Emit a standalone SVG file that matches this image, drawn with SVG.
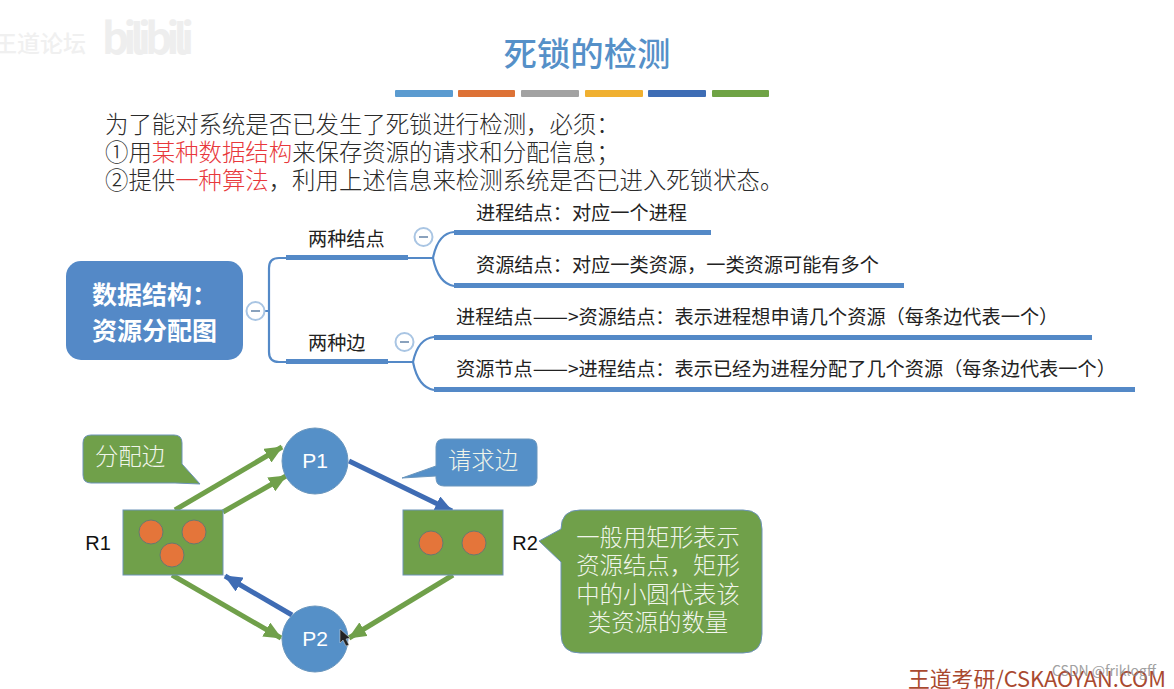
<svg xmlns="http://www.w3.org/2000/svg" width="1174" height="689" viewBox="0 0 1174 689">
<defs>
<marker id="ag" markerUnits="userSpaceOnUse" markerWidth="18" markerHeight="16" refX="17" refY="8" orient="auto"><path d="M0 0L18 8L0 16Z" fill="#70a04a"/></marker>
<marker id="ab" markerUnits="userSpaceOnUse" markerWidth="18" markerHeight="16" refX="17" refY="8" orient="auto"><path d="M0 0L18 8L0 16Z" fill="#3f6cb4"/></marker>
</defs>
<style>
text{font-family:"Noto Sans CJK SC","Liberation Sans",sans-serif}
.b{font-size:23.400px;fill:#2b2b2b;font-weight:300}
.r{fill:#e8383c}
.m{font-size:19.200px;fill:#222;font-weight:400}
.d{font-size:21px}
.th{fill:#5489c7}
.st{stroke:#5489c7;fill:none;stroke-width:2.2}
.col{fill:#fff;stroke:#a9c5e3;stroke-width:2}
.dash{stroke:#8aa2bd;stroke-width:2}
.ge{stroke:#70a04a;stroke-width:5;fill:none;marker-end:url(#ag)}
.be{stroke:#3f6cb4;stroke-width:5;fill:none;marker-end:url(#ab)}
.res{fill:#70a04a;stroke:#6d93b8;stroke-width:1}
.tok{fill:#e4753a;stroke:#667a70;stroke-width:1}
.proc{fill:#5590c8;stroke:#6a96bd;stroke-width:1}
.lt{fill:#f0f5ea;font-size:23.400px;font-weight:300;text-anchor:middle}
.pl{fill:#fff;font-family:"Liberation Sans",sans-serif;font-size:21px;text-anchor:middle}
.rl{fill:#111;font-family:"Liberation Sans",sans-serif;font-size:20px;text-anchor:middle}
</style>
<g id="watermark">
<text x="-6" y="52" font-size="23" fill="#f0f0f0" font-weight="500">王道论坛</text>
<text x="102" y="54" font-size="42" fill="#eeeeee" font-weight="700" font-family="Liberation Sans,sans-serif" textLength="92">bilibili</text>
</g>
<g id="title">
<text x="587" y="66" font-size="33.400" fill="#5590c8" text-anchor="middle" font-weight="500">死锁的检测</text>
<rect x="395" y="90" width="58" height="7" rx="1" fill="#5b9bd0"/>
<rect x="458" y="90" width="57" height="7" rx="1" fill="#dd7236"/>
<rect x="521" y="90" width="58" height="7" rx="1" fill="#a2a2a2"/>
<rect x="585" y="90" width="58" height="7" rx="1" fill="#f0b030"/>
<rect x="648" y="90" width="58" height="7" rx="1" fill="#3e6db5"/>
<rect x="712" y="90" width="57" height="7" rx="1" fill="#6fa345"/>
</g>
<g id="intro">
<text class="b" x="105" y="132.500">为了能对系统是否已发生了死锁进行检测，必须：</text>
<text class="b" x="105" y="160.500">①用<tspan class="r">某种数据结构</tspan>来保存资源的请求和分配信息；</text>
<text class="b" x="105" y="188.500">②提供<tspan class="r">一种算法</tspan>，利用上述信息来检测系统是否已进入死锁状态。</text>
</g>
<g id="mindmap-lines">
<path class="st" d="M246 311H269M287 258H279Q269 258 269 268V352Q269 362 279 362H287"/>
<path class="st" d="M408 258H433M454 232C442 233 436 243 433 258C436 273 442 284 454 286"/>
<path class="st" d="M388 362H413M434 337C422 338 416 348 413 362C416 377 422 388 434 390"/>
<rect class="th" x="286" y="255" width="122" height="5"/>
<rect class="th" x="286" y="359" width="102" height="5"/>
<rect class="th" x="454" y="230" width="257" height="5"/>
<rect class="th" x="454" y="283" width="450" height="5"/>
<rect class="th" x="434" y="335" width="658" height="5"/>
<rect class="th" x="434" y="387" width="701" height="5"/>
</g>
<g id="root">
<rect x="66" y="261" width="177" height="99" rx="15" fill="#5489c7"/>
<text x="92" y="304" font-size="25" font-weight="700" fill="#fff">数据结构：</text>
<text x="92" y="340" font-size="25" font-weight="700" fill="#fff">资源分配图</text>
</g>
<g id="collapse-buttons">
<circle class="col" cx="255.500" cy="311" r="9"/><path class="dash" d="M251 311H260"/>
<circle class="col" cx="423.500" cy="237" r="9"/><path class="dash" d="M419 237H428"/>
<circle class="col" cx="404.500" cy="342" r="9"/><path class="dash" d="M400 342H409"/>
</g>
<g id="mindmap-labels">
<text class="m" x="308" y="246">两种结点</text>
<text class="m" x="308" y="350">两种边</text>
<text class="m" x="476" y="220">进程结点：对应一个进程</text>
<text class="m" x="476" y="272">资源结点：对应一类资源，一类资源可能有多个</text>
<text class="m" x="456" y="324">进程结点<tspan class="d">——</tspan>&gt;资源结点：表示进程想申请几个资源（每条边代表一个）</text>
<text class="m" x="456" y="376">资源节点<tspan class="d">——</tspan>&gt;进程结点：表示已经为进程分配了几个资源（每条边代表一个）</text>
</g>
<g id="connectors">
<path class="ge" d="M175 510L282 447"/>
<path class="ge" d="M223 512L286 476"/>
<path class="be" d="M349 461L452 511"/>
<path class="ge" d="M172 575L281 638"/>
<path class="be" d="M292 615L225 576"/>
<path class="ge" d="M453 575L349 638"/>
</g>
<g id="callout-alloc">
<path d="M91 435H174Q182 435 182 443V464L200 484L175 483H91Q83 483 83 475V443Q83 435 91 435Z" fill="#70a04a" stroke="#6d93b8"/>
<text class="lt" x="130" y="465">分配边</text>
</g>
<g id="callout-req">
<path d="M444 439H529Q537 439 537 447V478Q537 486 529 486H444Q436 486 436 478V476L402 478L436 466V447Q436 439 444 439Z" fill="#5590c8" stroke="#6a96bd"/>
<text class="lt" x="483" y="469">请求边</text>
</g>
<g id="R1">
<rect class="res" x="123" y="510" width="100" height="65"/>
<circle class="tok" cx="151" cy="532" r="12"/><circle class="tok" cx="194" cy="532" r="12"/><circle class="tok" cx="172" cy="555" r="12"/>
<text class="rl" x="98" y="550">R1</text>
</g>
<g id="R2">
<rect class="res" x="403" y="510" width="100" height="65"/>
<circle class="tok" cx="431" cy="543" r="12"/><circle class="tok" cx="474" cy="543" r="12"/>
<text class="rl" x="525" y="550">R2</text>
</g>
<g id="P1"><circle class="proc" cx="315" cy="461" r="33"/><text class="pl" x="315" y="468">P1</text></g>
<g id="P2"><circle class="proc" cx="315" cy="639" r="33"/><text class="pl" x="315" y="646">P2</text></g>
<path id="cursor" d="M340 629L340 643L343 640L346 646L349 645L346 639L350 638Z" fill="#222" stroke="#ddd" stroke-width=".5"/>
<g id="callout-note">
<path d="M580 510H743Q762 510 762 529V634Q762 653 743 653H580Q561 653 561 634V562L539 541L561 529Q561 510 580 510Z" fill="#70a04a" stroke="#6d93b8"/>
<text class="lt" x="658" y="546">一般用矩形表示</text>
<text class="lt" x="658" y="574">资源结点，矩形</text>
<text class="lt" x="658" y="603">中的小圆代表该</text>
<text class="lt" x="658" y="631">类资源的数量</text>
</g>
<g id="footer">
<text x="908" y="687" font-size="21.800" fill="#a9492f" font-family="Liberation Sans,'Noto Sans CJK SC',sans-serif">王道考研/CSKAOYAN.COM</text>
<text x="1052" y="676" font-size="14" fill="#8a8a8a" font-family="Liberation Sans,sans-serif" opacity=".8">CSDN @friklogff</text>
</g>
</svg>
